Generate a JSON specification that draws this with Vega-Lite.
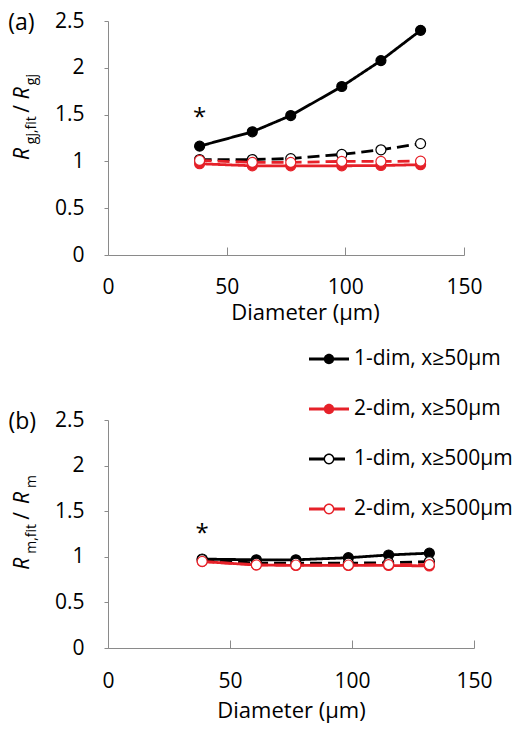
{
  "$schema": "https://vega.github.io/schema/vega-lite/v6.json",
  "padding": {"left": 8, "top": 10, "right": 5, "bottom": 5},
  "datasets": {
    "a": [
      {"s": "1-dim, x≥50μm", "d": 38.6, "r": 1.163},
      {"s": "1-dim, x≥50μm", "d": 60.8, "r": 1.316},
      {"s": "1-dim, x≥50μm", "d": 77.0, "r": 1.49},
      {"s": "1-dim, x≥50μm", "d": 98.5, "r": 1.80},
      {"s": "1-dim, x≥50μm", "d": 115.0, "r": 2.077},
      {"s": "1-dim, x≥50μm", "d": 131.7, "r": 2.40},
      {"s": "2-dim, x≥50μm", "d": 38.6, "r": 0.975},
      {"s": "2-dim, x≥50μm", "d": 60.8, "r": 0.953},
      {"s": "2-dim, x≥50μm", "d": 77.0, "r": 0.953},
      {"s": "2-dim, x≥50μm", "d": 98.5, "r": 0.953},
      {"s": "2-dim, x≥50μm", "d": 115.0, "r": 0.956},
      {"s": "2-dim, x≥50μm", "d": 131.7, "r": 0.965},
      {"s": "1-dim, x≥500μm", "d": 38.6, "r": 1.02},
      {"s": "1-dim, x≥500μm", "d": 60.8, "r": 1.02},
      {"s": "1-dim, x≥500μm", "d": 77.0, "r": 1.03},
      {"s": "1-dim, x≥500μm", "d": 98.5, "r": 1.075},
      {"s": "1-dim, x≥500μm", "d": 115.0, "r": 1.124},
      {"s": "1-dim, x≥500μm", "d": 131.7, "r": 1.19},
      {"s": "2-dim, x≥500μm", "d": 38.6, "r": 1.01},
      {"s": "2-dim, x≥500μm", "d": 60.8, "r": 0.99},
      {"s": "2-dim, x≥500μm", "d": 77.0, "r": 0.99},
      {"s": "2-dim, x≥500μm", "d": 98.5, "r": 1.0},
      {"s": "2-dim, x≥500μm", "d": 115.0, "r": 1.0},
      {"s": "2-dim, x≥500μm", "d": 131.7, "r": 1.003}
    ],
    "b": [
      {"s": "1-dim, x≥50μm", "d": 38.6, "r": 0.975},
      {"s": "1-dim, x≥50μm", "d": 60.8, "r": 0.967},
      {"s": "1-dim, x≥50μm", "d": 77.0, "r": 0.967},
      {"s": "1-dim, x≥50μm", "d": 98.5, "r": 0.99},
      {"s": "1-dim, x≥50μm", "d": 115.0, "r": 1.02},
      {"s": "1-dim, x≥50μm", "d": 131.7, "r": 1.04},
      {"s": "2-dim, x≥50μm", "d": 38.6, "r": 0.948},
      {"s": "2-dim, x≥50μm", "d": 60.8, "r": 0.91},
      {"s": "2-dim, x≥50μm", "d": 77.0, "r": 0.905},
      {"s": "2-dim, x≥50μm", "d": 98.5, "r": 0.905},
      {"s": "2-dim, x≥50μm", "d": 115.0, "r": 0.905},
      {"s": "2-dim, x≥50μm", "d": 131.7, "r": 0.9},
      {"s": "1-dim, x≥500μm", "d": 38.6, "r": 0.97},
      {"s": "1-dim, x≥500μm", "d": 60.8, "r": 0.93},
      {"s": "1-dim, x≥500μm", "d": 77.0, "r": 0.93},
      {"s": "1-dim, x≥500μm", "d": 98.5, "r": 0.93},
      {"s": "1-dim, x≥500μm", "d": 115.0, "r": 0.935},
      {"s": "1-dim, x≥500μm", "d": 131.7, "r": 0.948},
      {"s": "2-dim, x≥500μm", "d": 38.6, "r": 0.95},
      {"s": "2-dim, x≥500μm", "d": 60.8, "r": 0.912},
      {"s": "2-dim, x≥500μm", "d": 77.0, "r": 0.91},
      {"s": "2-dim, x≥500μm", "d": 98.5, "r": 0.91},
      {"s": "2-dim, x≥500μm", "d": 115.0, "r": 0.915},
      {"s": "2-dim, x≥500μm", "d": 131.7, "r": 0.915}
    ],
    "starA": [{"d": 38.6, "r": 1.459}],
    "starB": [{"d": 38.6, "r": 1.245}],
    "one": [{}]
  },
  "config": {
    "view": {"stroke": null},
    "font": "Open Sans",
    "axis": {
      "domainColor": "#8a8a8a",
      "tickColor": "#8a8a8a",
      "grid": false,
      "labelFont": "Open Sans",
      "labelFontSize": 21,
      "labelColor": "#000000",
      "labelFlush": false,
      "labelOverlap": false,
      "titleFont": "Open Sans",
      "titleFontSize": 22,
      "titleFontWeight": "normal",
      "titleColor": "#000000"
    },
    "title": {"font": "Open Sans", "fontSize": 23, "fontWeight": "normal", "color": "#000000"}
  },
  "bounds": "flush",
  "spacing": 165,
  "resolve": {"legend": {"color": "independent"}},
  "vconcat": [
    {
      "width": 356,
      "height": 234,
      "title": {"text": "(a)", "anchor": "start", "frame": "bounds", "offset": 0, "dx": -4, "dy": 25},
      "layer": [
        {
          "data": {"name": "a"},
          "mark": {"type": "line", "strokeWidth": 2.8},
          "encoding": {
            "x": {"field": "d", "type": "quantitative", "scale": {"domain": [0, 150], "nice": false},
              "axis": {"values": [0, 50, 100, 150], "tickSize": -8, "labelPadding": 46, "labelBaseline": "alphabetic", "labelAngle": 0,
                "title": "Diameter (μm)", "titleX": 197, "titleY": 64, "titleBaseline": "alphabetic", "titleAlign": "center"}},
            "y": {"field": "r", "type": "quantitative", "scale": {"domain": [0, 2.5], "nice": false},
              "axis": {"values": [0, 0.5, 1, 1.5, 2, 2.5], "format": "~g", "tickSize": 4, "labelPadding": 20, "title": null}},
            "color": {"field": "s", "type": "nominal",
              "scale": {"domain": ["1-dim, x≥50μm", "2-dim, x≥50μm", "1-dim, x≥500μm", "2-dim, x≥500μm"], "range": ["#000000", "#e62129", "#000000", "#e62129"]},
              "legend": {
                "orient": "none", "legendX": 201, "legendY": 318, "title": null,
                "symbolSize": 1600, "symbolType": "M-1,-0.075H1V0.075H-1Z",
                "labelFont": "Open Sans", "labelFontSize": 21, "labelColor": "#000000", "labelOffset": 5, "labelLimit": 300, "rowPadding": 20,
                "encode": {"symbols": {"update": {
                  "shape": [
                    {"test": "indexof(datum.value,'500')>=0", "value": "M-1,-0.075H-0.26V0.075H-1Z M0.26,-0.075H0.8V0.075H0.26Z M0.27,0A0.27,0.27 0 1,1 -0.27,0A0.27,0.27 0 1,1 0.27,0Z M0.2,0A0.2,0.2 0 1,0 -0.2,0A0.2,0.2 0 1,0 0.2,0Z"},
                    {"value": "M-1,-0.075H-0.24V0.075H-1Z M0.24,-0.075H1V0.075H0.24Z M0.26,0A0.26,0.26 0 1,1 -0.26,0A0.26,0.26 0 1,1 0.26,0Z"}
                  ],
                  "fill": [{"test": "indexof(datum.value,'2-dim')>=0", "value": "#e62129"}, {"value": "#000000"}],
                  "stroke": {"value": "transparent"},
                  "strokeWidth": {"value": 0},
                  "opacity": {"value": 1}
                }}}
              }},
            "strokeDash": {"field": "s", "type": "nominal",
              "scale": {"domain": ["1-dim, x≥50μm", "2-dim, x≥50μm", "1-dim, x≥500μm", "2-dim, x≥500μm"], "range": [[1, 0], [1, 0], [12, 6], [12, 6]]},
              "legend": null}
          }
        },
        {
          "data": {"name": "a"},
          "mark": {"type": "point", "shape": "circle", "filled": true, "size": 100, "strokeWidth": 1.2, "opacity": 1},
          "encoding": {
            "x": {"field": "d", "type": "quantitative"},
            "y": {"field": "r", "type": "quantitative"},
            "fill": {"field": "s", "type": "nominal",
              "scale": {"domain": ["1-dim, x≥50μm", "2-dim, x≥50μm", "1-dim, x≥500μm", "2-dim, x≥500μm"], "range": ["#000000", "#e62129", "#ffffff", "#ffffff"]},
              "legend": null},
            "stroke": {"field": "s", "type": "nominal",
              "scale": {"domain": ["1-dim, x≥50μm", "2-dim, x≥50μm", "1-dim, x≥500μm", "2-dim, x≥500μm"], "range": ["#000000", "#e62129", "#000000", "#e62129"]},
              "legend": null}
          }
        },
        {
          "data": {"name": "starA"},
          "mark": {"type": "text", "text": "*", "fontSize": 24, "baseline": "middle", "align": "center", "color": "#000000"},
          "encoding": {"x": {"field": "d", "type": "quantitative"}, "y": {"field": "r", "type": "quantitative"}}
        },
        {
          "data": {"name": "one"},
          "mark": {"type": "text", "text": "R", "angle": 270, "align": "left", "baseline": "alphabetic", "fontSize": 21, "fontStyle": "italic", "color": "#000000"},
          "encoding": {"x": {"datum": -33.2, "type": "quantitative"}, "y": {"datum": 1.014, "type": "quantitative"}}
        },
        {
          "data": {"name": "one"},
          "mark": {"type": "text", "text": "gj,fit", "angle": 270, "align": "left", "baseline": "alphabetic", "fontSize": 14, "color": "#000000"},
          "encoding": {"x": {"datum": -30.2, "type": "quantitative"}, "y": {"datum": 1.184, "type": "quantitative"}}
        },
        {
          "data": {"name": "one"},
          "mark": {"type": "text", "text": "/", "angle": 270, "align": "left", "baseline": "alphabetic", "fontSize": 21, "color": "#000000"},
          "encoding": {"x": {"datum": -33.2, "type": "quantitative"}, "y": {"datum": 1.52, "type": "quantitative"}}
        },
        {
          "data": {"name": "one"},
          "mark": {"type": "text", "text": "R", "angle": 270, "align": "left", "baseline": "alphabetic", "fontSize": 21, "fontStyle": "italic", "color": "#000000"},
          "encoding": {"x": {"datum": -33.2, "type": "quantitative"}, "y": {"datum": 1.665, "type": "quantitative"}}
        },
        {
          "data": {"name": "one"},
          "mark": {"type": "text", "text": "gj", "angle": 270, "align": "left", "baseline": "alphabetic", "fontSize": 14, "color": "#000000"},
          "encoding": {"x": {"datum": -30.2, "type": "quantitative"}, "y": {"datum": 1.814, "type": "quantitative"}}
        }
      ]
    },
    {
      "width": 366,
      "height": 228,
      "title": {"text": "(b)", "anchor": "start", "frame": "bounds", "offset": 0, "dx": -4, "dy": 25},
      "layer": [
        {
          "data": {"name": "b"},
          "mark": {"type": "line", "strokeWidth": 2.8},
          "encoding": {
            "x": {"field": "d", "type": "quantitative", "scale": {"domain": [0, 150], "nice": false},
              "axis": {"values": [0, 50, 100, 150], "tickSize": -8, "labelPadding": 47, "labelBaseline": "alphabetic", "labelAngle": 0,
                "title": "Diameter (μm)", "titleY": 69, "titleBaseline": "alphabetic"}},
            "y": {"field": "r", "type": "quantitative", "scale": {"domain": [0, 2.5], "nice": false},
              "axis": {"values": [0, 0.5, 1, 1.5, 2, 2.5], "format": "~g", "tickSize": 4, "labelPadding": 20, "title": null}},
            "color": {"field": "s", "type": "nominal",
              "scale": {"domain": ["1-dim, x≥50μm", "2-dim, x≥50μm", "1-dim, x≥500μm", "2-dim, x≥500μm"], "range": ["#000000", "#e62129", "#000000", "#e62129"]},
              "legend": null},
            "strokeDash": {"field": "s", "type": "nominal",
              "scale": {"domain": ["1-dim, x≥50μm", "2-dim, x≥50μm", "1-dim, x≥500μm", "2-dim, x≥500μm"], "range": [[1, 0], [1, 0], [12, 6], [12, 6]]},
              "legend": null}
          }
        },
        {
          "data": {"name": "b"},
          "mark": {"type": "point", "shape": "circle", "filled": true, "size": 100, "strokeWidth": 1.2, "opacity": 1},
          "encoding": {
            "x": {"field": "d", "type": "quantitative"},
            "y": {"field": "r", "type": "quantitative"},
            "fill": {"field": "s", "type": "nominal",
              "scale": {"domain": ["1-dim, x≥50μm", "2-dim, x≥50μm", "1-dim, x≥500μm", "2-dim, x≥500μm"], "range": ["#000000", "#e62129", "#ffffff", "#ffffff"]},
              "legend": null},
            "stroke": {"field": "s", "type": "nominal",
              "scale": {"domain": ["1-dim, x≥50μm", "2-dim, x≥50μm", "1-dim, x≥500μm", "2-dim, x≥500μm"], "range": ["#000000", "#e62129", "#000000", "#e62129"]},
              "legend": null}
          }
        },
        {
          "data": {"name": "starB"},
          "mark": {"type": "text", "text": "*", "fontSize": 24, "baseline": "middle", "align": "center", "color": "#000000"},
          "encoding": {"x": {"field": "d", "type": "quantitative"}, "y": {"field": "r", "type": "quantitative"}}
        },
        {
          "data": {"name": "one"},
          "mark": {"type": "text", "text": "R", "angle": 270, "align": "left", "baseline": "alphabetic", "fontSize": 21, "fontStyle": "italic", "color": "#000000"},
          "encoding": {"x": {"datum": -32.2, "type": "quantitative"}, "y": {"datum": 0.857, "type": "quantitative"}}
        },
        {
          "data": {"name": "one"},
          "mark": {"type": "text", "text": "m,fit", "angle": 270, "align": "left", "baseline": "alphabetic", "fontSize": 14, "color": "#000000"},
          "encoding": {"x": {"datum": -29.4, "type": "quantitative"}, "y": {"datum": 1.033, "type": "quantitative"}}
        },
        {
          "data": {"name": "one"},
          "mark": {"type": "text", "text": "/", "angle": 270, "align": "left", "baseline": "alphabetic", "fontSize": 21, "color": "#000000"},
          "encoding": {"x": {"datum": -32.2, "type": "quantitative"}, "y": {"datum": 1.405, "type": "quantitative"}}
        },
        {
          "data": {"name": "one"},
          "mark": {"type": "text", "text": "R", "angle": 270, "align": "left", "baseline": "alphabetic", "fontSize": 21, "fontStyle": "italic", "color": "#000000"},
          "encoding": {"x": {"datum": -32.2, "type": "quantitative"}, "y": {"datum": 1.58, "type": "quantitative"}}
        },
        {
          "data": {"name": "one"},
          "mark": {"type": "text", "text": "m", "angle": 270, "align": "left", "baseline": "alphabetic", "fontSize": 14, "color": "#000000"},
          "encoding": {"x": {"datum": -29.4, "type": "quantitative"}, "y": {"datum": 1.755, "type": "quantitative"}}
        }
      ]
    }
  ]
}
